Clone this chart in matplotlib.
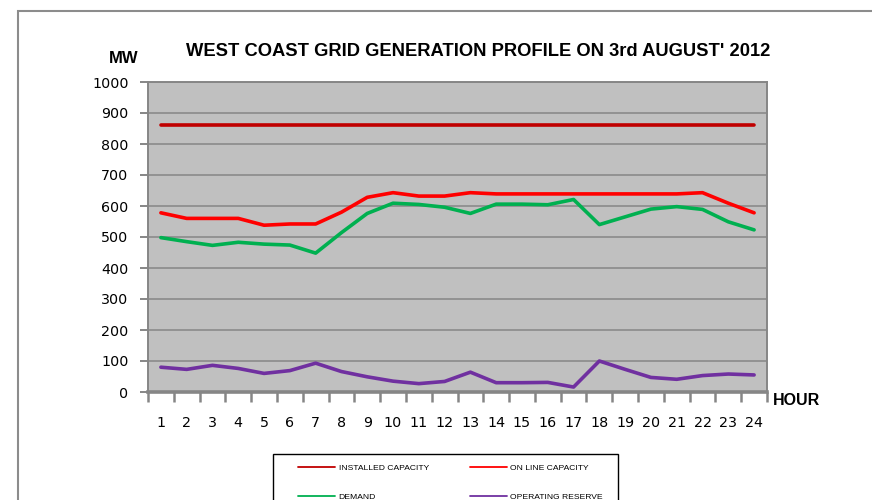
import matplotlib
matplotlib.use('Agg')
import matplotlib.pyplot as plt
from matplotlib.patches import Rectangle

# hourly values (MW)
hours = list(range(1, 25))
installed = [860, 860, 860, 860, 860, 860, 860, 860, 860, 860, 860, 860,
             860, 860, 860, 860, 860, 860, 860, 860, 860, 860, 860, 860]
online = [578, 560, 560, 560, 538, 542, 542, 580, 628, 643, 632, 632,
          643, 639, 639, 639, 639, 639, 639, 639, 639, 643, 609, 578]
demand = [498, 485, 473, 483, 477, 474, 448, 514, 576, 609, 605, 596,
          576, 606, 606, 604, 621, 540, 565, 590, 598, 589, 549, 523]
reserve = [80, 73, 86, 76, 60, 69, 93, 66, 49, 35, 27, 34,
           64, 30, 30, 31, 16, 100, 73, 47, 41, 53, 58, 55]
yticks = list(range(0, 1001, 100))

W, H = 872, 500
grey = '#868686'
fig = plt.figure(figsize=(W / 100, H / 100), dpi=100)

# outer chart frame
fig.add_artist(Rectangle((18 / W, -0.1), 1.2, (1 - 11 / H) + 0.1, transform=fig.transFigure,
                         fill=False, edgecolor='#8c8c8c', lw=1.5, clip_on=False))

ax = fig.add_axes([148 / W, 1 - 392 / H, (767 - 148) / W, (392 - 82) / H])
ax.set_facecolor('#c0c0c0')

kw = dict(lw=2.6, solid_capstyle='round', solid_joinstyle='round')
l_inst, = ax.plot(hours, installed, color='#c00000', **kw)
l_on, = ax.plot(hours, online, color='#ff0000', **kw)
l_dem, = ax.plot(hours, demand, color='#00b050', **kw)
l_res, = ax.plot(hours, reserve, color='#7030a0', **kw)

ax.set_xlim(0.5, 24.5)
ax.set_ylim(0, 1000)
ax.set_yticks(yticks)
ax.yaxis.grid(True, color=grey, lw=1.1)
ax.set_axisbelow(True)
ax.set_xticks(hours)
ax.set_xticks([h - 0.5 for h in hours] + [24.5], minor=True)
ax.tick_params(axis='x', which='major', length=0, pad=17, labelsize=10.3)
ax.tick_params(axis='x', which='minor', length=7, width=1.8, color=grey)
ax.tick_params(axis='y', length=6, width=1.4, color=grey, pad=8, labelsize=10.3)
for s in ['left', 'top', 'right']:
    ax.spines[s].set_color(grey)
    ax.spines[s].set_linewidth(1.4)
ax.spines['bottom'].set_color(grey)
ax.spines['bottom'].set_linewidth(2.6)

bold = dict(family='Liberation Sans', weight='bold')
fig.text(478.5 / W, 1 - 56.5 / H, "WEST COAST GRID GENERATION PROFILE ON 3rd AUGUST' 2012",
         ha='center', va='baseline', fontsize=13.2, **bold)
fig.text(123.5 / W, 1 - 63 / H, 'MW', ha='center', va='baseline', fontsize=12, **bold)
fig.text(773 / W, 1 - 405 / H, 'HOUR', ha='left', va='baseline', fontsize=11.5, **bold)

# legend box (runs off the bottom of the picture)
fig.add_artist(Rectangle((273 / W, -0.1), (618 - 273) / W, (1 - 454 / H) + 0.1,
                         transform=fig.transFigure, fill=False, edgecolor='black',
                         lw=1.0, clip_on=False))
leg = fig.legend([l_inst, l_dem, l_on, l_res],
                 ['INSTALLED CAPACITY', 'DEMAND', 'ON LINE CAPACITY', 'OPERATING RESERVE'],
                 ncol=2, loc='upper left', bbox_to_anchor=(298 / W, 1 - 464 / H),
                 frameon=False, prop={'family': 'Liberation Sans', 'size': 6.1},
                 handlelength=4.4, handletextpad=0.4, columnspacing=4.8,
                 labelspacing=2.5, borderpad=0, borderaxespad=0)
for ln in leg.get_lines():
    ln.set_linewidth(1.3)

fig.savefig('out.png', dpi=100)
